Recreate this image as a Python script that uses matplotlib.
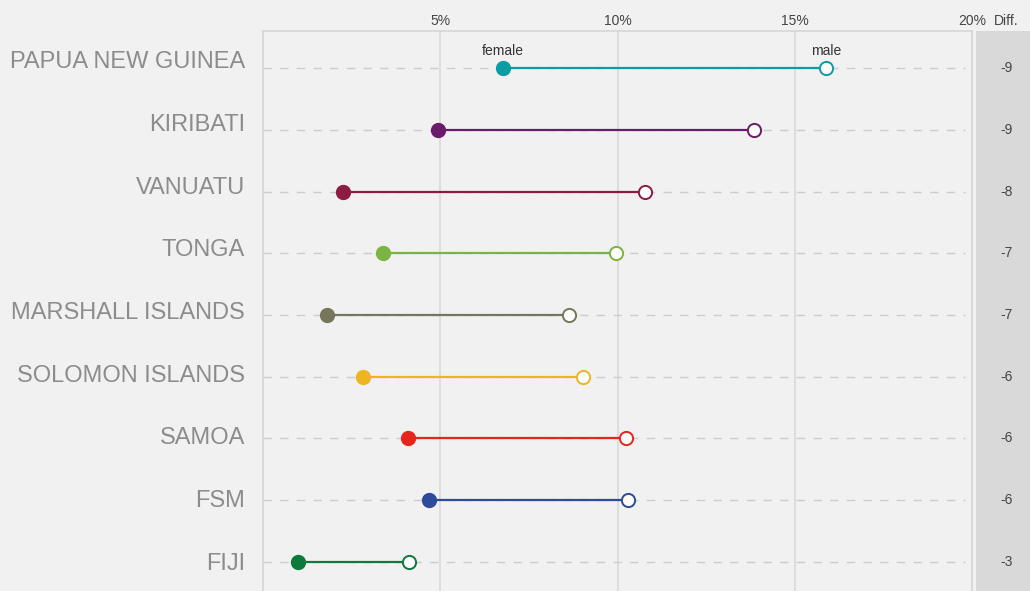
import matplotlib.pyplot as plt

countries = ['PAPUA NEW GUINEA', 'KIRIBATI', 'VANUATU', 'TONGA', 'MARSHALL ISLANDS',
             'SOLOMON ISLANDS', 'SAMOA', 'FSM', 'FIJI']
female = [6.77, 4.94, 2.26, 3.39, 1.81, 2.82, 4.09, 4.68, 0.99]
male = [15.88, 13.85, 10.78, 9.96, 8.63, 9.03, 10.24, 10.30, 4.12]
diff = [-9, -9, -8, -7, -7, -6, -6, -6, -3]
colors = ['#0e9ca4', '#6a1b6a', '#8c1c42', '#7ab441', '#76775a',
          '#efb521', '#e8241d', '#2e4a9b', '#0b7a3b']
xticks = [5, 10, 15, 20]

bg = '#f1f1f1'
fig = plt.figure(figsize=(10.3, 5.91), dpi=100, facecolor=bg)
plt.rcParams['font.family'] = ['Liberation Sans', 'DejaVu Sans']

ax = fig.add_axes([263 / 1030, 0, 709 / 1030, 560 / 591])
ax.set_facecolor(bg)
ax.set_xlim(0, 20)
ax.set_ylim(8.47, -0.6)

# grey Diff strip on the right
strip = fig.add_axes([976 / 1030, 0, 54 / 1030, 560 / 591])
strip.set_facecolor('#d9d9d9')
strip.set_xticks([])
strip.set_yticks([])
for s in strip.spines.values():
    s.set_visible(False)
strip.set_ylim(8.47, -0.6)
strip.set_xlim(0, 1)

for x in xticks[:-1]:
    ax.axvline(x, color='#d9d9d9', lw=1.2, zorder=0)

for i, name in enumerate(countries):
    ax.axhline(i, xmin=0, xmax=0.99, color='#cccccc', lw=1, ls=(0, (6, 6)), zorder=1)
    c = colors[i]
    ax.plot([female[i], male[i]], [i, i], color=c, lw=1.6, zorder=2)
    ax.plot(female[i], i, 'o', color=c, ms=10, zorder=3)
    ax.plot(male[i], i, 'o', mfc='white', mec=c, mew=1.4, ms=9.5, zorder=3)
    # country labels sit on their own slightly wider spacing
    fig.text(245 / 1030, 1 - (60 + 8.5 + i * 62.63) / 591, name, ha='right', va='baseline',
             fontsize=17, color='#8c8c8c')
    strip.text(0.57, i, str(diff[i]), ha='center', va='center', fontsize=10, color='#444444')

ax.text(female[0], -0.17, 'female', ha='center', va='bottom', fontsize=10, color='#333333')
ax.text(male[0], -0.17, 'male', ha='center', va='bottom', fontsize=10, color='#333333')

ax.xaxis.tick_top()
ax.set_xticks(xticks)
ax.set_xticklabels([f'{t}%' for t in xticks])
ax.tick_params(axis='x', length=0, labelsize=10, labelcolor='#444444', pad=2)
ax.set_yticks([])
for side in ['left', 'top', 'right']:
    ax.spines[side].set_color('#d6d6d6')
    ax.spines[side].set_linewidth(1.2)
ax.spines['bottom'].set_visible(False)

fig.text(1006 / 1030, 1 - 21 / 591, 'Diff.', ha='center', va='center', fontsize=10, color='#444444')

fig.savefig('out.png', dpi=100, facecolor=bg)
